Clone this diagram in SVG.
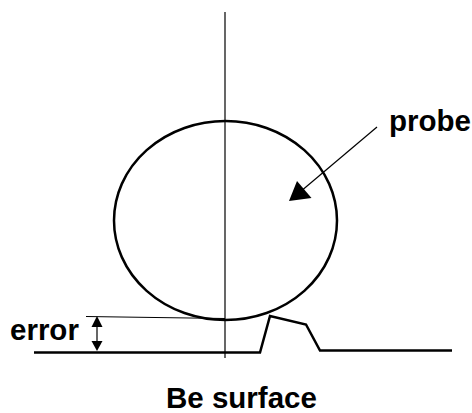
<svg xmlns="http://www.w3.org/2000/svg" width="472" height="413" viewBox="0 0 472 413">
<style>
.t{font-family:"Liberation Sans",Arial,sans-serif;font-weight:700;font-size:29.500px;fill:#000}
.thin{fill:none;stroke:#000;stroke-width:1.200}
.thick{fill:none;stroke:#000;stroke-width:2.500}
</style>
<rect width="472" height="413" fill="#fff"/>
<g id="probe-circle"><ellipse cx="225.500" cy="220.500" rx="111.500" ry="99.500" class="thick"/></g>
<g id="surface"><polyline points="34,352.500 260,352.500 270,316 306,324.500 320,350.500 452,350.500" class="thick"/></g>
<g id="connectors">
<line x1="225" y1="12" x2="225" y2="358" class="thin"/>
<line x1="86" y1="316.500" x2="225" y2="318.500" class="thin"/>
<line x1="97" y1="325" x2="97" y2="344" class="thin"/>
<polygon points="97,316 102.500,327 91.500,327"/>
<polygon points="97,351 102.500,341 91.500,341"/>
<line x1="377" y1="127" x2="300" y2="192" class="thin"/>
<polygon points="289,201 297,181 311.500,198"/>
</g>
<g id="labels">
<text class="t" x="10" y="339.500">error</text>
<text class="t" x="389" y="131">probe</text>
<text class="t" x="166" y="408">Be surface</text>
</g>
</svg>
